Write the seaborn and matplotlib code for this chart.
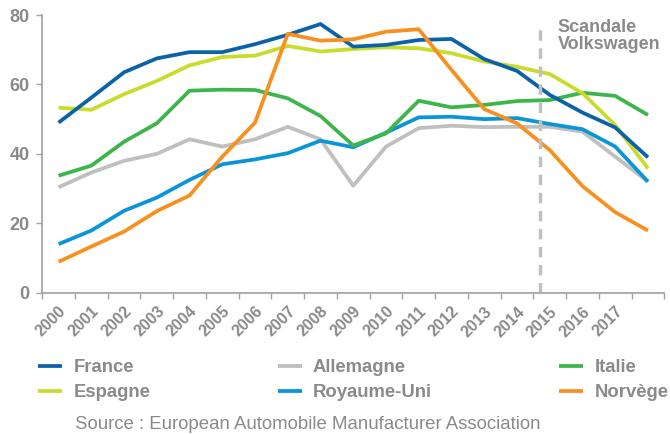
import matplotlib
matplotlib.use("Agg")
import matplotlib.pyplot as plt
import seaborn as sns
import pandas as pd
import numpy as np

years = [str(y) for y in range(2000, 2019)]
tick_labels = [str(y) for y in range(2000, 2018)] + [""]

france = [49.0, 56.2, 63.5, 67.5, 69.3, 69.3, 71.6, 74.3, 77.4, 70.9, 71.4, 72.8, 73.1, 67.3, 63.9, 57.0, 51.9, 47.6, 39.0]
espagne = [53.3, 52.7, 57.2, 61.0, 65.5, 67.9, 68.3, 71.1, 69.5, 70.2, 70.7, 70.4, 69.0, 66.6, 65.1, 63.0, 57.5, 48.3, 35.8]
allemagne = [30.4, 34.6, 38.0, 40.0, 44.2, 42.1, 44.2, 47.8, 44.2, 30.8, 42.1, 47.4, 48.1, 47.7, 47.8, 47.8, 46.4, 39.2, 32.0]
royaume_uni = [14.0, 17.9, 23.6, 27.4, 32.5, 37.0, 38.4, 40.2, 43.8, 41.9, 46.1, 50.5, 50.7, 50.0, 50.3, 48.6, 47.1, 42.1, 32.0]
italie = [33.7, 36.6, 43.5, 48.8, 58.2, 58.5, 58.4, 56.0, 50.9, 42.4, 45.9, 55.3, 53.4, 54.1, 55.2, 55.5, 57.6, 56.7, 51.2]
norvege = [8.9, 13.3, 17.6, 23.5, 28.0, 39.2, 49.0, 74.6, 72.6, 73.0, 75.2, 75.9, 64.2, 52.9, 48.8, 41.1, 30.7, 23.2, 17.9]

series = {
    "France": france,
    "Espagne": espagne,
    "Allemagne": allemagne,
    "Royaume-Uni": royaume_uni,
    "Italie": italie,
    "Norvège": norvege,
}
colors = {
    "France": "#0b62a8",
    "Espagne": "#c9dc2c",
    "Allemagne": "#bfbfbf",
    "Royaume-Uni": "#0a95d8",
    "Italie": "#3db54a",
    "Norvège": "#f7901e",
}
draw_order = ["Allemagne", "Royaume-Uni", "Italie", "Espagne", "France", "Norvège"]
legend_order = ["France", "Espagne", "Allemagne", "Royaume-Uni", "Italie", "Norvège"]

rows = []
for name, vals in series.items():
    for i, v in enumerate(vals):
        rows.append({"idx": i, "year": years[i], "pays": name, "val": v})
df = pd.DataFrame(rows)

sns.set_theme(style="white")
plt.rcParams['font.family'] = ['Liberation Sans', 'DejaVu Sans']
gray = "#8a8a8a"

fig = plt.figure(figsize=(6.70, 4.34), dpi=100)
ax = fig.add_axes([0.063, 0.3256, 0.9285, 0.6398])

for name in draw_order:
    sns.lineplot(data=df[df.pays == name], x="idx", y="val", color=colors[name],
                 linewidth=2.7, ax=ax, label=name, solid_capstyle="butt")

ax.set_xlim(-0.5, 18.5)
ax.set_ylim(0, 80)
ax.set_xlabel("")
ax.set_ylabel("")

ax.set_yticks([0, 20, 40, 60, 80])
ax.set_yticklabels(["0", "20", "40", "60", "80"], fontsize=13, fontweight="bold", color=gray)
ax.tick_params(axis="y", length=4, width=1, color="#a0a0a0", pad=5, left=True)

ax.set_xticks(np.arange(19))
ax.set_xticklabels(tick_labels, rotation=45, ha="right", rotation_mode="anchor",
                   fontsize=11.5, fontweight="bold", color=gray)
ax.tick_params(axis="x", which="major", length=0, pad=8)
ax.set_xticks(np.arange(-0.5, 19.0, 1.0), minor=True)
ax.tick_params(axis="x", which="minor", length=4, width=1, color="#a0a0a0", bottom=True)

for s in ["top", "right"]:
    ax.spines[s].set_visible(False)
for s in ["left", "bottom"]:
    ax.spines[s].set_color("#a0a0a0")
    ax.spines[s].set_linewidth(1.2)

ax.axvline(14.7, ymin=0, ymax=0.964, color="#c0c0c0", linewidth=2.5, linestyle=(0, (3, 2.2)))
ax.text(15.25, 78.9, "Scandale\nVolkswagen", fontsize=13, fontweight="bold", color=gray,
        va="top", ha="left", linespacing=1.05)

handles, labels = ax.get_legend_handles_labels()
hmap = dict(zip(labels, handles))
ax.legend([hmap[n] for n in legend_order], legend_order, ncol=3, frameon=False,
          loc="upper left", bbox_to_anchor=(0.057, 0.172), bbox_transform=fig.transFigure,
          prop={"size": 13.3, "weight": "bold"}, labelcolor=gray,
          handlelength=1.3, handletextpad=0.6, columnspacing=6.9, labelspacing=0.42,
          borderaxespad=0, borderpad=0)

fig.text(0.112, 0.012, "Source : European Automobile Manufacturer Association",
         fontsize=13.4, color=gray, ha="left", va="baseline")

fig.savefig("out.png", dpi=100)
